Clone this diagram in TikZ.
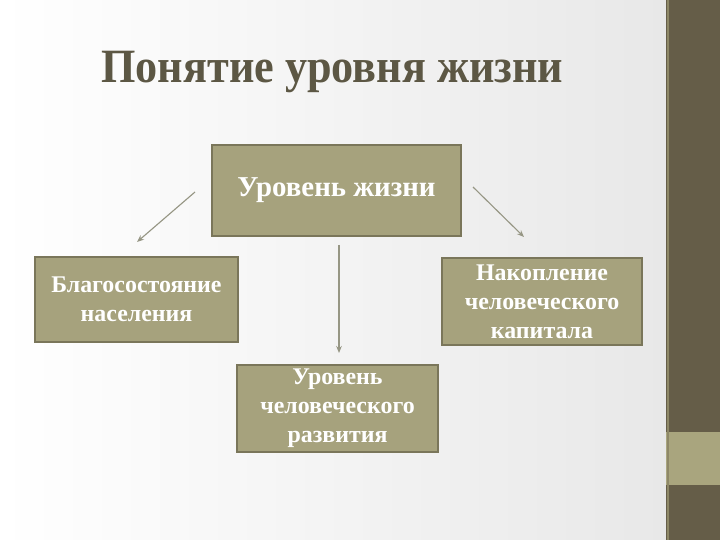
\documentclass[tikz,border=0pt]{standalone}
\usepackage{fontspec}
\setmainfont{Liberation Serif}
\usetikzlibrary{arrows.meta}

\definecolor{bandDark}{RGB}{101,93,72}
\definecolor{bandLight}{RGB}{169,165,126}
\definecolor{boxFill}{RGB}{166,162,125}
\definecolor{boxLine}{RGB}{122,118,90}
\definecolor{titleText}{RGB}{92,87,68}
\definecolor{arrowLine}{RGB}{150,150,132}

\tikzset{
	levelbox/.style={draw=boxLine, line width=1.6pt, fill=boxFill, text=white,
		font=\bfseries\fontsize{17}{20.5}\selectfont, align=center, inner sep=0pt},
	linkarrow/.style={draw=arrowLine, line width=0.8pt, -{Stealth[length=5pt,width=4pt]}}
}

\begin{document}
\begin{tikzpicture}
	% background and side band
	\shade[left color=white, right color=black!9] (0,0) rectangle (16.65,13.5);
	\useasboundingbox (0,0) rectangle (18,13.5);
	\fill[bandDark] (16.65,0) rectangle (18,13.5);
	\fill[bandLight] (16.65,1.375) rectangle (18,2.7);
	\draw[bandLight!60!bandDark, line width=1pt] (16.7,0) -- (16.7,13.5);

	\node[anchor=base, text=titleText, font=\bfseries\fontsize{34}{40}\selectfont] (title) at (8.3125,11.425) {\scalebox{0.925}[1]{Понятие уровня жизни}};

	\node[levelbox, minimum width=6.225cm, minimum height=2.275cm, font=\bfseries\fontsize{20.5}{24}\selectfont] (level) at (8.4125,8.7375) {Уровень жизни};
	\node[levelbox, minimum width=5.075cm, minimum height=2.125cm] (welfare) at (3.4125,6.0125) {Благосостояние\\населения};
	\node[levelbox, minimum width=5.0cm, minimum height=2.175cm] (capital) at (13.55,5.9625) {Накопление\\человеческого\\капитала};
	\node[levelbox, minimum width=5.025cm, minimum height=2.175cm] (human) at (8.4375,3.2875) {Уровень\\человеческого\\развития};

	% arrow ends
	\coordinate (l1) at (4.875,8.7);
	\coordinate (l2) at (3.425,7.45);
	\coordinate (r1) at (11.825,8.825);
	\coordinate (r2) at (13.1,7.575);
	\coordinate (m1) at (8.475,7.375);
	\coordinate (m2) at (8.475,4.675);

	\draw[linkarrow] (l1) -- (l2);
	\draw[linkarrow] (r1) -- (r2);
	\draw[linkarrow] (m1) -- (m2);
\end{tikzpicture}
\end{document}
